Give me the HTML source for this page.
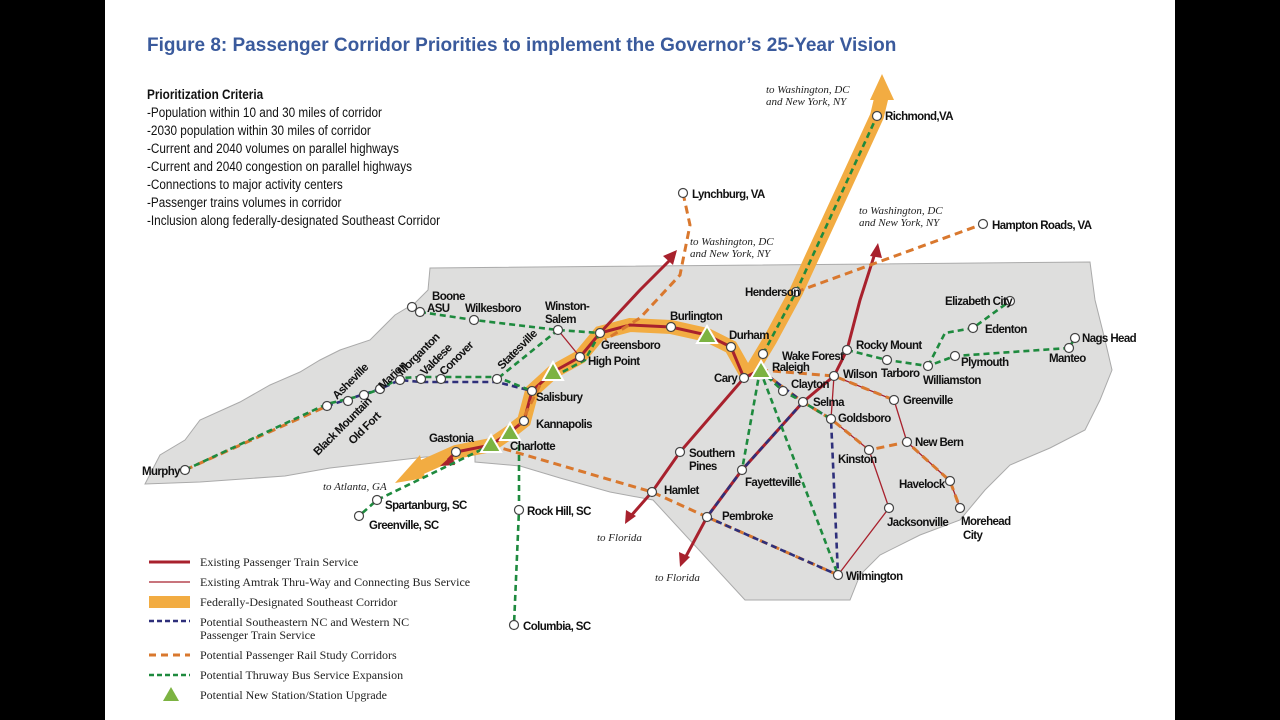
<!DOCTYPE html>
<html><head><meta charset="utf-8"><style>
html,body{margin:0;padding:0;background:#000;}
#w{position:absolute;left:105px;top:0;width:1070px;height:720px;background:#fff;}
svg{position:absolute;left:0;top:0}
.t{font-family:"Liberation Sans",sans-serif;font-weight:bold;font-size:11.5px;letter-spacing:-0.6px;fill:#111}
.i{font-family:"Liberation Serif",serif;font-style:italic;font-size:11px;fill:#222}
.l{font-family:"Liberation Serif",serif;font-size:12px;fill:#222}
.c{font-family:"Liberation Sans",sans-serif;font-size:14px;fill:#111}
</style></head><body>
<div id="w"></div>
<svg width="1280" height="720" viewBox="0 0 1280 720">
<text x="147" y="51" style="font-family:'Liberation Sans',sans-serif;font-weight:bold;font-size:19px;fill:#3a5a9c">Figure 8: Passenger Corridor Priorities to implement the Governor’s 25-Year Vision</text>
<g transform="translate(147,0) scale(0.84,1)">
<text class="c" x="0" y="99" style="font-weight:bold">Prioritization Criteria</text>
<text class="c" x="0" y="117">-Population within 10 and 30 miles of corridor</text>
<text class="c" x="0" y="135">-2030 population within 30 miles of corridor</text>
<text class="c" x="0" y="153">-Current and 2040 volumes on parallel highways</text>
<text class="c" x="0" y="171">-Current and 2040 congestion on parallel highways</text>
<text class="c" x="0" y="189">-Connections to major activity centers</text>
<text class="c" x="0" y="207">-Passenger trains volumes in corridor</text>
<text class="c" x="0" y="225">-Inclusion along federally-designated Southeast Corridor</text>
</g>

<path d="M145,484 L160,455 L185,440 L200,420 L240,402 L270,385 L300,372 L320,360 L340,350 L370,340 L395,315 L415,303 L428,290 L430,268 L1090,262 L1095,300 L1105,340 L1112,370 L1100,400 L1085,430 L1050,448 L1010,465 L985,490 L960,520 L920,535 L880,555 L860,575 L850,600 L745,600 L653,500 L610,492 L560,478 L520,466 L475,462 L475,455 L425,457 L330,468 L285,476 L200,482 Z" fill="#dededd" stroke="#aaa" stroke-width="1"/>

<g fill="none" stroke-linecap="butt">
<path d="M420,468 L456,452 L491,445 L510,432 L524,421 L532,391 L553,372 L580,357 L600,333 L630,325 L671,327 L707,335 L731,347 L744,370 L752,370 L770,340 L796,292 L877,116 L882,95" stroke="#f2ac42" stroke-width="14"/>
<path d="M882,74 L870,100 L894,100 Z" fill="#f2ac42" stroke="none"/>
<path d="M395,483 L420,455 L425,478 Z" fill="#f2ac42" stroke="none"/>
<g stroke="#a8212d" stroke-width="3">
<path d="M448,460 L456,452 L491,445 L510,432 L524,421 L532,391 L553,372 L580,357 L600,333 L630,325 L671,327 L707,335 L731,347 L744,378"/>
<path d="M600,333 L640,290 L672,258"/>
<path d="M760,370 L744,378 L680,452 L652,492 L630,517"/>
<path d="M803,402 L742,470 L707,517 L684,560"/>
<path d="M803,402 L834,376 L847,350 L860,300 L876,250"/>
</g>
<g fill="#a8212d" stroke="none">
<path d="M677,250 L663,256 L673,265 Z"/><path d="M625,524 L626,510 L636,516 Z"/>
<path d="M680,567 L679,552 L690,557 Z"/><path d="M878,243 L870,256 L882,258 Z"/>
<path d="M440,466 L452,455 L455,465 Z"/>
</g>
<g stroke="#a8212d" stroke-width="1.3">
<path d="M558,330 L580,357"/><path d="M834,376 L831,419 L869,450 L889,508 L838,575"/>
<path d="M834,376 L894,400 L907,442 L950,481 L960,508"/>
</g>
<g stroke="#d9782e" stroke-width="3" stroke-dasharray="8,5">
<path d="M185,470 L327,406"/>
<path d="M683,193 L690,225 L680,275 L640,318 L605,340"/>
<path d="M796,292 L983,224"/>
<path d="M760,370 L834,376 L894,400"/>
<path d="M760,370 L803,402 L831,419 L869,450 L907,442 L950,481 L960,508"/>
<path d="M491,445 L652,492 L707,517 L838,575"/>
<path d="M540,385 L520,425"/>
</g>
<g stroke="#2e2f7a" stroke-width="2.6" stroke-dasharray="6,4">
<path d="M327,406 L380,389 L400,380 L421,382 L441,382 L497,382 L532,391"/>
<path d="M760,370 L803,402 L831,419 L838,575"/>
<path d="M803,402 L742,470 L707,517 L838,575"/>
</g>
<g stroke="#1e8a3e" stroke-width="2.6" stroke-dasharray="6,4">
<path d="M185,470 L327,404 L364,395 L380,389 L400,378 L421,377 L441,377 L497,377 L532,391"/>
<path d="M420,312 L474,320 L558,330 L600,333"/>
<path d="M558,330 L497,379"/>
<path d="M600,333 L585,360 L555,376"/>
<path d="M491,445 L377,500 L359,516"/>
<path d="M519,445 L519,510 L514,625"/>
<path d="M763,354 L796,292 L877,116"/>
<path d="M760,370 L742,470"/><path d="M760,370 L838,575"/>
<path d="M760,370 L783,391 L803,402 L831,419"/>
<path d="M847,350 L887,360 L928,366 L955,356 L1069,348 L1075,338"/>
<path d="M928,366 L945,333 L973,328 L1010,301"/>
</g>
</g>
<g fill="#7cb342" stroke="#fff" stroke-width="2">
<path d="M553,362 L543,380 L563,380 Z"/><path d="M510,423 L500,440 L520,440 Z"/>
<path d="M491,435 L481,452 L501,452 Z"/><path d="M707,326 L697,343 L717,343 Z"/>
<path d="M761,361 L751,378 L771,378 Z"/>
</g>
<g fill="#fff" stroke="#444" stroke-width="1.2">
<circle cx="185" cy="470" r="4.5"/><circle cx="327" cy="406" r="4.5"/><circle cx="348" cy="401" r="4.5"/><circle cx="364" cy="395" r="4.5"/><circle cx="380" cy="389" r="4.5"/><circle cx="400" cy="380" r="4.5"/><circle cx="421" cy="379" r="4.5"/><circle cx="441" cy="379" r="4.5"/><circle cx="497" cy="379" r="4.5"/><circle cx="532" cy="391" r="4.5"/><circle cx="524" cy="421" r="4.5"/><circle cx="456" cy="452" r="4.5"/><circle cx="412" cy="307" r="4.5"/><circle cx="420" cy="312" r="4.5"/><circle cx="474" cy="320" r="4.5"/><circle cx="558" cy="330" r="4.5"/><circle cx="580" cy="357" r="4.5"/><circle cx="600" cy="333" r="4.5"/><circle cx="671" cy="327" r="4.5"/><circle cx="731" cy="347" r="4.5"/><circle cx="744" cy="378" r="4.5"/><circle cx="763" cy="354" r="4.5"/><circle cx="796" cy="292" r="4.5"/><circle cx="783" cy="391" r="4.5"/><circle cx="803" cy="402" r="4.5"/><circle cx="834" cy="376" r="4.5"/><circle cx="831" cy="419" r="4.5"/><circle cx="847" cy="350" r="4.5"/><circle cx="887" cy="360" r="4.5"/><circle cx="928" cy="366" r="4.5"/><circle cx="955" cy="356" r="4.5"/><circle cx="973" cy="328" r="4.5"/><circle cx="1010" cy="301" r="4.5"/><circle cx="1075" cy="338" r="4.5"/><circle cx="1069" cy="348" r="4.5"/><circle cx="894" cy="400" r="4.5"/><circle cx="907" cy="442" r="4.5"/><circle cx="869" cy="450" r="4.5"/><circle cx="950" cy="481" r="4.5"/><circle cx="960" cy="508" r="4.5"/><circle cx="889" cy="508" r="4.5"/><circle cx="838" cy="575" r="4.5"/><circle cx="707" cy="517" r="4.5"/><circle cx="742" cy="470" r="4.5"/><circle cx="680" cy="452" r="4.5"/><circle cx="652" cy="492" r="4.5"/><circle cx="377" cy="500" r="4.5"/><circle cx="359" cy="516" r="4.5"/><circle cx="519" cy="510" r="4.5"/><circle cx="514" cy="625" r="4.5"/><circle cx="877" cy="116" r="4.5"/><circle cx="683" cy="193" r="4.5"/><circle cx="983" cy="224" r="4.5"/>
</g>
<g class="t">
<text x="142" y="475">Murphy</text><text x="432" y="300">Boone</text><text x="427" y="312">ASU</text><text x="465" y="312">Wilkesboro</text>
<text x="545" y="310">Winston-</text><text x="545" y="323">Salem</text>
<text x="601" y="349">Greensboro</text><text x="588" y="365">High Point</text>
<text x="536" y="401">Salisbury</text><text x="536" y="428">Kannapolis</text><text x="429" y="442">Gastonia</text><text x="510" y="450">Charlotte</text>
<text x="670" y="320">Burlington</text><text x="729" y="339">Durham</text><text x="714" y="382">Cary</text>
<text x="745" y="296">Henderson</text><text x="782" y="360">Wake Forest</text><text x="772" y="371">Raleigh</text>
<text x="791" y="388">Clayton</text><text x="813" y="406">Selma</text><text x="838" y="422">Goldsboro</text><text x="843" y="378">Wilson</text>
<text x="856" y="349">Rocky Mount</text><text x="881" y="377">Tarboro</text><text x="923" y="384">Williamston</text><text x="961" y="366">Plymouth</text>
<text x="985" y="333">Edenton</text><text x="945" y="305">Elizabeth City</text><text x="1082" y="342">Nags Head</text><text x="1049" y="362">Manteo</text>
<text x="903" y="404">Greenville</text><text x="915" y="446">New Bern</text><text x="838" y="463">Kinston</text><text x="899" y="488">Havelock</text>
<text x="961" y="525">Morehead</text><text x="963" y="539">City</text><text x="887" y="526">Jacksonville</text><text x="846" y="580">Wilmington</text>
<text x="722" y="520">Pembroke</text><text x="745" y="486">Fayetteville</text><text x="689" y="457">Southern</text><text x="689" y="470">Pines</text>
<text x="664" y="494">Hamlet</text><text x="385" y="509">Spartanburg, SC</text><text x="369" y="529">Greenville, SC</text>
<text x="527" y="515">Rock Hill, SC</text><text x="523" y="630">Columbia, SC</text><text x="885" y="120">Richmond,VA</text>
<text x="692" y="198">Lynchburg, VA</text><text x="992" y="229">Hampton Roads, VA</text>
<text transform="translate(337,400) rotate(-45)">Asheville</text>
<text transform="translate(318,456) rotate(-45)">Black Mountain</text>
<text transform="translate(353,445) rotate(-45)">Old Fort</text>
<text transform="translate(383,390) rotate(-45)">Marion</text>
<text transform="translate(402,376) rotate(-45)">Morganton</text>
<text transform="translate(425,376) rotate(-45)">Valdese</text>
<text transform="translate(444,376) rotate(-45)">Conover</text>
<text transform="translate(502,370) rotate(-45)">Statesville</text>
</g>
<g class="i">
<text x="766" y="93">to Washington, DC</text><text x="766" y="105">and New York, NY</text>
<text x="859" y="214">to Washington, DC</text><text x="859" y="226">and New York, NY</text>
<text x="690" y="245">to Washington, DC</text><text x="690" y="257">and New York, NY</text>
<text x="323" y="490">to Atlanta, GA</text><text x="597" y="541">to Florida</text><text x="655" y="581">to Florida</text>
</g>
<line x1="149" y1="562" x2="190" y2="562" stroke="#a8212d" stroke-width="3"/>
<line x1="149" y1="582" x2="190" y2="582" stroke="#a8212d" stroke-width="1.3"/>
<rect x="149" y="596" width="41" height="12" fill="#f2ac42"/>
<line x1="149" y1="621" x2="190" y2="621" stroke="#2e2f7a" stroke-width="2.6" stroke-dasharray="5,3"/>
<line x1="149" y1="655" x2="190" y2="655" stroke="#d9782e" stroke-width="3" stroke-dasharray="7,5"/>
<line x1="149" y1="675" x2="190" y2="675" stroke="#1e8a3e" stroke-width="2.6" stroke-dasharray="5,3"/>
<path d="M171,687 L163,701 L179,701 Z" fill="#7cb342"/>
<g class="l">
<text x="200" y="566">Existing Passenger Train Service</text>
<text x="200" y="586">Existing Amtrak Thru-Way and Connecting Bus Service</text>
<text x="200" y="606">Federally-Designated Southeast Corridor</text>
<text x="200" y="626">Potential Southeastern NC and Western NC</text>
<text x="200" y="639">Passenger Train Service</text>
<text x="200" y="659">Potential Passenger Rail Study Corridors</text>
<text x="200" y="679">Potential Thruway Bus Service Expansion</text>
<text x="200" y="699">Potential New Station/Station Upgrade</text>
</g>
</svg>
</body></html>
